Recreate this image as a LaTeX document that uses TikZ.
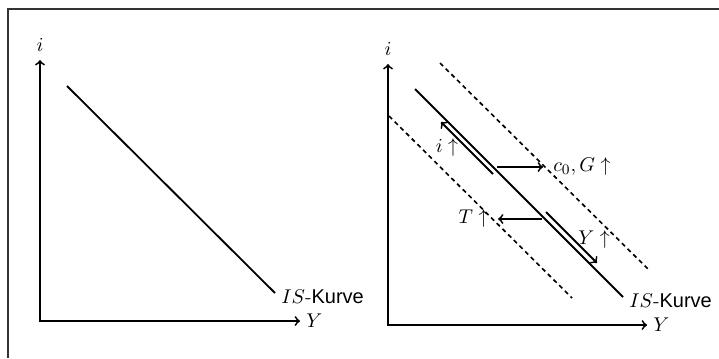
\documentclass[tikz,border=0pt]{standalone}
\usepackage{amsmath}
\usepackage{fontspec}
\newfontfamily\kurvefont{Liberation Sans}
\usetikzlibrary{positioning}

\begin{document}
\begin{tikzpicture}[
            x=0.55pt, y=-0.55pt,
            font=\fontsize{11}{13}\selectfont,
            axis/.style={line width=1pt, <->},
            kurve/.style={line width=1pt},
            shift line/.style={line width=0.9pt, dash pattern=on 2.4pt off 2pt},
            move/.style={line width=1pt, ->},
            lbl/.style={inner sep=2pt}
        ]
        \useasboundingbox (0,0) rectangle (719,358);

        % --- Rahmen ---
        \draw[gray!40!black, line width=0.6pt] (8,358) -- (8,9) -- (719,9);

        % --- Linkes Diagramm ---
        \coordinate (O1) at (40,321);
        \coordinate (top1) at (40,60);
        \coordinate (right1) at (300,321);
        \draw[axis] (top1) -- (O1) -- (right1);
        \node[above=1pt of top1] (ilabel1) {$i$};
        \node[right=0pt of right1] (Ylabel1) {$Y$};

        \coordinate (IS1a) at (67,86);
        \coordinate (IS1b) at (275,293);
        \draw[kurve] (IS1a) -- (IS1b);
        \node[right=0pt of IS1b, yshift=-2pt] (ISlabel1) {$IS$-{\kurvefont Kurve}};

        % --- Rechtes Diagramm ---
        \coordinate (O2) at (388,325);
        \coordinate (top2) at (388,64);
        \coordinate (right2) at (647,325);
        \draw[axis] (top2) -- (O2) -- (right2);
        \node[above=1pt of top2] (ilabel2) {$i$};
        \node[right=0pt of right2] (Ylabel2) {$Y$};

        \coordinate (IS2a) at (415,89);
        \coordinate (IS2b) at (623,297);
        \draw[kurve] (IS2a) -- (IS2b);
        \node[right=0pt of IS2b, yshift=-2pt] (ISlabel2) {$IS$-{\kurvefont Kurve}};

        % verschobene Kurven
        \coordinate (up a) at (440,63);
        \coordinate (up b) at (648,269);
        \draw[shift line] (up a) -- (up b);
        \coordinate (low a) at (389,116);
        \coordinate (low b) at (572,298);
        \draw[shift line] (low a) -- (low b);

        % --- Bewegungen ---
        \coordinate (zins a) at (493,174);
        \coordinate (zins b) at (441,122);
        \draw[move] (zins a) -- (zins b);
        \node[lbl] (zinslabel) at (447,148) {$i\uparrow$};

        \coordinate (nach a) at (497,167);
        \coordinate (nach b) at (543,167);
        \draw[move] (nach a) -- (nach b);
        \node[lbl, right=3.5pt of nach b] (nachlabel) {$c_0, G\uparrow$};

        \coordinate (steuer a) at (542,219);
        \coordinate (steuer b) at (498,219);
        \draw[move] (steuer a) -- (steuer b);
        \node[lbl, left=3pt of steuer b] (steuerlabel) {$T\uparrow$};

        \coordinate (eink a) at (546,212);
        \coordinate (eink b) at (597,263);
        \draw[move] (eink a) -- (eink b);
        \node[lbl] (einklabel) at (594,240) {$Y\uparrow$};

\end{tikzpicture}
\end{document}
